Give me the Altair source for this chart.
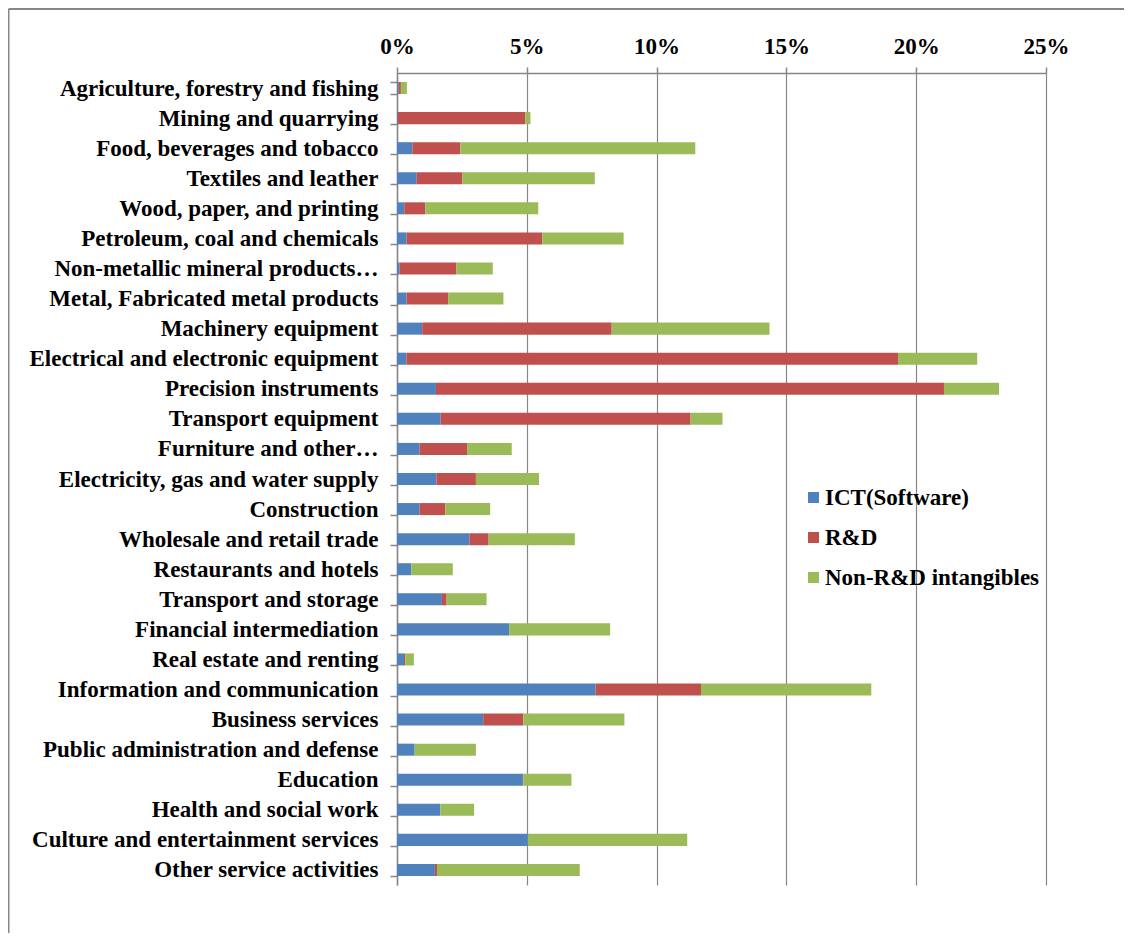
import altair as alt
import pandas as pd

industries = [
    "Agriculture, forestry and fishing",
    "Mining and quarrying",
    "Food, beverages and tobacco",
    "Textiles and leather",
    "Wood, paper, and printing",
    "Petroleum, coal and chemicals",
    "Non-metallic mineral products…",
    "Metal, Fabricated metal products",
    "Machinery equipment",
    "Electrical and electronic equipment",
    "Precision instruments",
    "Transport equipment",
    "Furniture and other…",
    "Electricity, gas and water supply",
    "Construction",
    "Wholesale and retail trade",
    "Restaurants and hotels",
    "Transport and storage",
    "Financial intermediation",
    "Real estate and renting",
    "Information and communication",
    "Business services",
    "Public administration and defense",
    "Education",
    "Health and social work",
    "Culture and entertainment services",
    "Other service activities",
]

ict = [0.06, 0.03, 0.59, 0.76, 0.28, 0.37, 0.10, 0.37, 0.97, 0.36, 1.50, 1.68, 0.87,
       1.52, 0.87, 2.79, 0.55, 1.73, 4.32, 0.27, 7.65, 3.32, 0.68, 4.85, 1.67, 5.04, 1.46]
rnd = [0.09, 4.91, 1.85, 1.75, 0.81, 5.23, 2.19, 1.60, 7.30, 18.94, 19.57, 9.63, 1.83,
       1.52, 0.99, 0.74, 0.00, 0.18, 0.00, 0.05, 4.06, 1.55, 0.00, 0.02, 0.00, 0.00, 0.08]
non_rnd = [0.23, 0.20, 9.05, 5.11, 4.35, 3.13, 1.40, 2.13, 6.08, 3.05, 2.12, 1.23, 1.72,
           2.43, 1.73, 3.32, 1.60, 1.54, 3.89, 0.33, 6.56, 3.89, 2.36, 1.85, 1.30, 6.14, 5.50]

series = ["ICT(Software)", "R&D", "Non-R&D intangibles"]
colors = ["#4F81BD", "#C0504D", "#9BBB59"]
ticks = [0, 5, 10, 15, 20, 25]

rows = []
for i, name in enumerate(industries):
    for k, vals in enumerate([ict, rnd, non_rnd]):
        rows.append({"industry": name, "series": series[k], "order": k, "value": vals[i]})
df = pd.DataFrame(rows)

FONT = "Liberation Serif"
GRAY = "#868686"
FS = 23

bars = alt.Chart(df).mark_bar().encode(
    y=alt.Y("industry:N", sort=industries,
            scale=alt.Scale(paddingInner=0.6, paddingOuter=0.3),
            axis=alt.Axis(title=None, tickBand="extent", grid=False, domainColor=GRAY,
                          tickColor=GRAY, tickSize=7, labelPadding=12, labelLimit=600,
                          labelFont=FONT, labelFontSize=FS, labelFontWeight="bold",
                          labelColor="black", domainWidth=1.5, tickWidth=1.5)),
    x=alt.X("sum(value):Q", stack="zero",
            scale=alt.Scale(domain=[0, 25], nice=False),
            axis=alt.Axis(title=None, orient="top", values=ticks,
                          labelExpr="datum.value + '%'", grid=True, gridColor=GRAY,
                          gridWidth=1.2, domainColor=GRAY, domainWidth=1.5, tickColor=GRAY,
                          tickSize=6, tickWidth=1.5, labelPadding=9, labelFlush=False,
                          labelFont=FONT, labelFontSize=FS, labelFontWeight="bold",
                          labelColor="black")),
    color=alt.Color("series:N", scale=alt.Scale(domain=series, range=colors),
                    legend=alt.Legend(title=None, orient="none", legendX=405, legendY=413,
                                      symbolType="square", symbolSize=121,
                                      symbolStrokeWidth=0, labelFont=FONT,
                                      labelFontSize=FS, labelFontWeight="bold",
                                      labelColor="black", labelOffset=0, rowPadding=16,
                                      labelLimit=600, padding=0)),
    order=alt.Order("order:Q"),
)

border_data = alt.Data(values=[{"a": 1}])
top_line = alt.Chart(border_data).mark_rule(color=GRAY, strokeWidth=2).encode(
    x=alt.value(-388.5), x2=alt.value(727), y=alt.value(-64))
left_line = alt.Chart(border_data).mark_rule(color=GRAY, strokeWidth=2).encode(
    x=alt.value(-388.5), y=alt.value(-64), y2=alt.value(860))

chart = alt.layer(bars, top_line, left_line).properties(
    width=649, height=812,
    autosize=alt.AutoSizeParams(type="none"),
    padding={"left": 389, "top": 65, "right": 78, "bottom": 48},
).configure_view(stroke=None)

chart.save("out.html", embed_options={"renderer": "svg", "actions": False})
